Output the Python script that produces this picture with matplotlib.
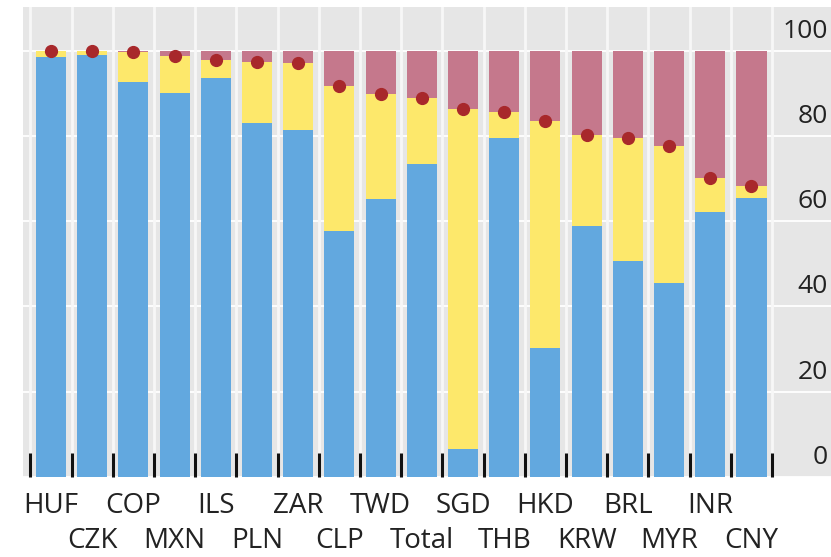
import matplotlib
matplotlib.use("Agg")
import matplotlib.pyplot as plt

plt.rcParams['font.family'] = ['Open Sans', 'DejaVu Sans']

categories = ["HUF", "CZK", "COP", "MXN", "ILS", "PLN", "ZAR", "CLP", "TWD",
              "Total", "SGD", "THB", "HKD", "KRW", "BRL", "MYR", "INR", "CNY"]
blue = [98.4, 98.9, 92.7, 90.1, 93.6, 82.9, 81.4, 57.7, 65.2,
        73.4, 6.5, 79.4, 30.2, 58.9, 50.6, 45.4, 62.1, 65.3]
yellow = [1.4, 1.0, 6.9, 8.7, 4.2, 14.5, 15.6, 34.0, 24.5,
          15.5, 79.9, 6.2, 53.3, 21.4, 29.0, 32.3, 7.9, 3.0]
maroon = [0.2, 0.1, 0.4, 1.2, 2.2, 2.6, 3.0, 8.3, 10.3,
          11.1, 13.6, 14.4, 16.5, 19.7, 20.4, 22.3, 30.0, 31.7]
dots = [99.8, 99.9, 99.6, 98.8, 97.8, 97.4, 97.0, 91.7, 89.7,
        88.9, 86.4, 85.6, 83.5, 80.3, 79.6, 77.7, 70.0, 68.3]
yticks = [0, 20, 40, 60, 80, 100]

c_blue = "#62a8df"
c_yellow = "#fde86b"
c_maroon = "#c5788c"
c_dot = "#a8282b"
c_bg = "#e6e6e6"

fig = plt.figure(figsize=(8.31, 5.57), dpi=100)
ax = fig.add_axes([23 / 831, 80 / 557, 808 / 831, 470 / 557])
ax.set_facecolor(c_bg)

x = list(range(len(categories)))
w = 0.73
ax.bar(x, blue, width=w, color=c_blue, zorder=3)
ax.bar(x, yellow, width=w, bottom=blue, color=c_yellow, zorder=3)
bottoms2 = [b + y for b, y in zip(blue, yellow)]
ax.bar(x, maroon, width=w, bottom=bottoms2, color=c_maroon, zorder=3)
ax.plot(x, dots, linestyle='none', marker='o', markersize=8.5,
        color=c_dot, zorder=5)

ax.set_xlim(-0.68, 18.93)
ax.set_ylim(0, 110.2)

# horizontal gridlines
for v in yticks:
    ax.axhline(v, color='white', lw=1.3, zorder=1)
# vertical separators
bounds = [i - 0.5 for i in range(len(categories) + 1)]
for b in bounds:
    ax.axvline(b, color='#f7f7f7', lw=2.0, zorder=1)

ax.set_xticks(bounds)
ax.set_xticklabels([])
ax.tick_params(axis='x', direction='in', length=17, width=2.2, color='#111111',
               bottom=True, top=False)
for t in ax.xaxis.get_major_ticks():
    t.tick1line.set_zorder(6)
ax.set_yticks([])
for s in ax.spines.values():
    s.set_visible(False)

# category labels in two rows
for i, lab in enumerate(categories):
    off = -21 if i % 2 == 0 else -46
    ax.annotate(lab, xy=(i, 0), xycoords=('data', 'axes fraction'),
                xytext=(0, off), textcoords='offset points',
                ha='center', va='center', fontsize=20, color='#222222',
                annotation_clip=False)

# y labels on right, above gridlines
for v in yticks:
    ax.annotate(str(v), xy=(1, v), xycoords=('axes fraction', 'data'),
                xytext=(-2.5, 14), textcoords='offset points',
                ha='right', va='center', fontsize=19, color='#222222',
                annotation_clip=False)

fig.savefig("out.png", dpi=100)
